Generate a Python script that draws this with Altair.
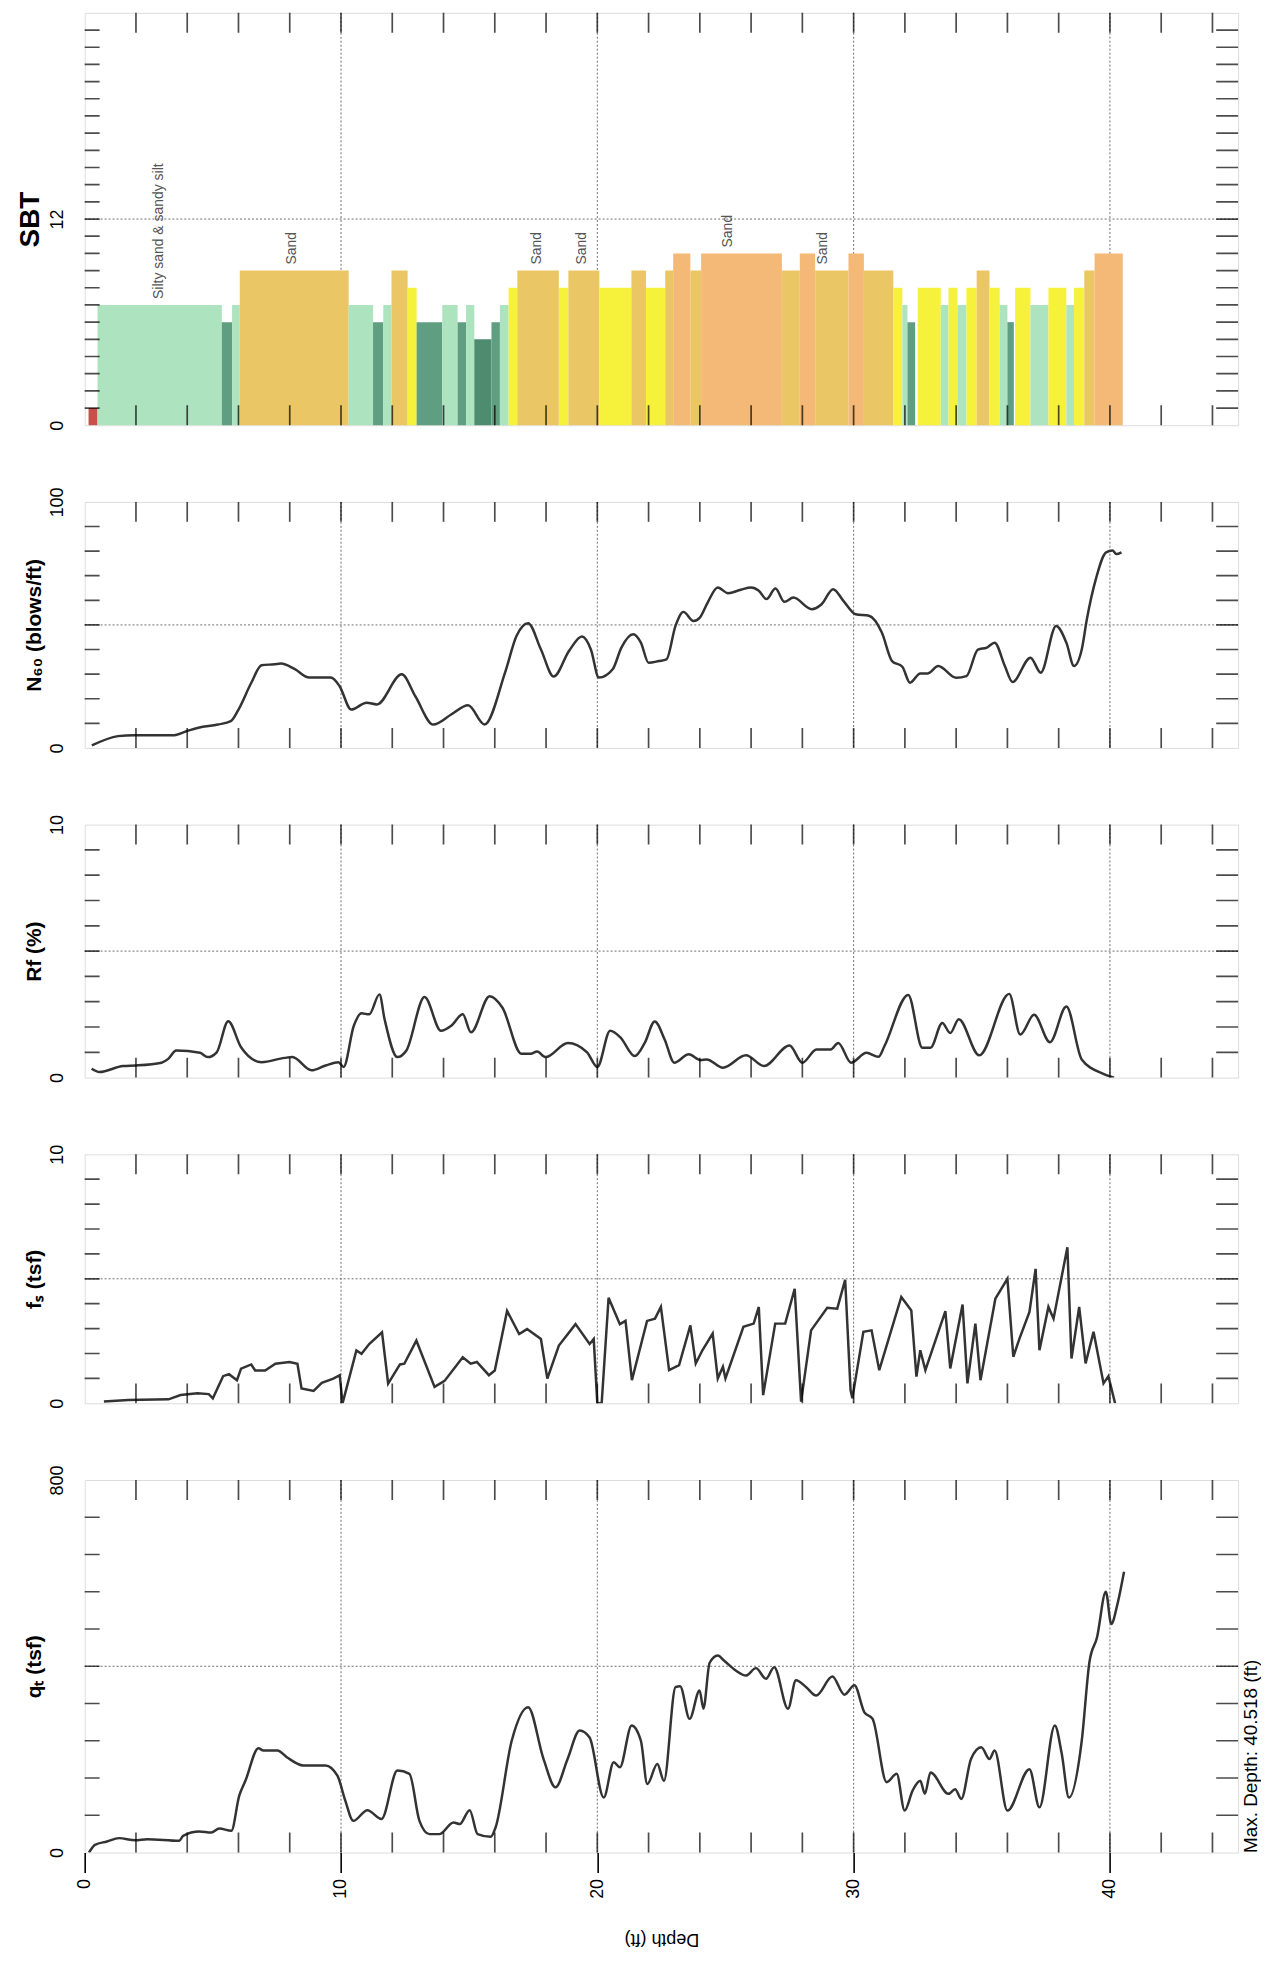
import altair as alt
import pandas as pd

FONT = "Liberation Sans"
DEPTH_MAX = 45
PLOT_W = 1158

# ---------------- data ----------------
depth_ticks = [2, 4, 6, 8, 10, 12, 14, 16, 18, 20, 22, 24, 26, 28, 30, 32, 34, 36, 38, 40, 42, 44]
grid_depths = [10, 20, 30, 40]
depth_labels = [0, 10, 20, 30, 40]

# SBT layers: (from depth, to depth, zone)
sbt_layers = [
    (0.15, 0.5, 1), (0.5, 5.35, 7), (5.35, 5.75, 6), (5.75, 6.05, 7), (6.05, 10.3, 9),
    (10.3, 11.25, 7), (11.25, 11.65, 6), (11.65, 11.97, 7), (11.97, 12.6, 9), (12.6, 12.95, 8),
    (12.95, 13.95, 6), (13.95, 14.55, 7), (14.55, 14.88, 6), (14.88, 15.2, 7), (15.2, 15.87, 5),
    (15.87, 16.2, 6), (16.2, 16.54, 7), (16.54, 16.88, 8), (16.88, 18.5, 9), (18.5, 18.87, 8),
    (18.87, 20.08, 9), (20.08, 21.33, 8), (21.33, 21.9, 9), (21.9, 22.65, 8), (22.65, 22.96, 9),
    (22.96, 23.63, 10), (23.63, 24.05, 9), (24.05, 27.2, 10), (27.2, 27.9, 9), (27.9, 28.5, 10),
    (28.5, 29.8, 9), (29.8, 30.4, 10), (30.4, 31.55, 9), (31.55, 31.9, 8), (31.9, 32.1, 7),
    (32.1, 32.4, 6), (32.5, 33.4, 8), (33.4, 33.7, 7), (33.7, 34.05, 8), (34.05, 34.4, 7),
    (34.4, 34.8, 8), (34.8, 35.3, 9), (35.3, 35.7, 8), (35.7, 36.0, 7), (36.0, 36.25, 6),
    (36.3, 36.9, 8), (36.9, 37.6, 7), (37.6, 38.3, 8), (38.3, 38.6, 7), (38.6, 39.0, 8),
    (39.0, 39.4, 9), (39.4, 40.5, 10),
]
sbt_zone_keys = ["1", "5", "6", "7", "8", "9", "10"]
sbt_zone_colors = ["#c8504a", "#4d8c6e", "#5f9e80", "#ade3bf", "#f6f23c", "#eac764", "#f4b877"]

sbt_labels = [
    (2.9, 7, "Silty sand & sandy silt"),
    (8.1, 9, "Sand"),
    (17.65, 9, "Sand"),
    (19.4, 9, "Sand"),
    (25.1, 10, "Sand"),
    (28.8, 9, "Sand"),
]

n60 = [(0.28, 1), (1.3, 4.8), (1.93, 5.2), (3.5, 5.2), (3.97, 6.8), (4.44, 8.2), (5.2, 9.5),
       (5.7, 10.9), (6.0, 15.6), (6.5, 26.5), (6.9, 33.6), (7.4, 34), (7.66, 34.3), (8.2, 32),
       (8.76, 28.6), (9.6, 28.6), (9.94, 25.2), (10.4, 15.6), (11.0, 18.4), (11.4, 17.7),
       (12.37, 29.9), (12.9, 21), (13.6, 9.5), (14.3, 13.6), (14.96, 17.3), (15.6, 9.5),
       (16.4, 30.6), (16.85, 45.6), (17.3, 50.7), (17.8, 40), (18.3, 29), (18.9, 39.5),
       (19.4, 45.3), (19.75, 40), (20.06, 28.6), (20.6, 32), (20.94, 40.8), (21.4, 46.2),
       (21.7, 42.8), (22.0, 34.6), (22.4, 35.3), (22.7, 36), (23.05, 49.6), (23.36, 55.3),
       (23.75, 51.6), (24.0, 53), (24.3, 59), (24.7, 65.2), (25.1, 62.9), (25.6, 64.3),
       (26.0, 65.2), (26.3, 63.9), (26.6, 60.5), (26.95, 64.8), (27.3, 59.4), (27.65, 61.1),
       (28.36, 56.4), (28.75, 58.4), (29.2, 64.5), (29.6, 59.8), (30.08, 54.3), (30.6, 53.7),
       (31.1, 46.9), (31.5, 35.3), (31.9, 33), (32.2, 26.5), (32.6, 30.3), (32.9, 30.3),
       (33.3, 33.3), (34.0, 28.5), (34.4, 29.2), (34.85, 40), (35.2, 40.8), (35.5, 42.8),
       (35.9, 33.3), (36.2, 26.8), (36.9, 36.7), (37.3, 30.6), (37.9, 49.6), (38.3, 42.8),
       (38.6, 33.3), (38.9, 40), (39.1, 52.3), (39.45, 68.6), (39.85, 79.5), (40.1, 80.2),
       (40.25, 78.8), (40.45, 79.5)]

rf = [(0.27, 0.35), (0.58, 0.22), (1.5, 0.46), (2.0, 0.48), (3.0, 0.59), (3.26, 0.74),
      (3.57, 1.07), (4.5, 0.98), (4.8, 0.81), (5.15, 1.0), (5.6, 2.23), (6.1, 1.2), (6.9, 0.61),
      (7.8, 0.78), (8.1, 0.81), (8.85, 0.29), (9.4, 0.48), (9.9, 0.61), (10.1, 0.42),
      (10.5, 2.05), (10.8, 2.54), (11.1, 2.5), (11.5, 3.29), (11.7, 2.31), (12.2, 0.81),
      (12.55, 1.07), (13.26, 3.19), (13.9, 1.85), (14.3, 2.05), (14.75, 2.5), (15.07, 1.79),
      (15.8, 3.22), (16.3, 2.76), (17.04, 0.94), (17.4, 0.94), (17.65, 1.03), (17.98, 0.81),
      (18.85, 1.37), (19.6, 1.0), (20.0, 0.42), (20.5, 1.85), (20.9, 1.59), (21.46, 0.85),
      (21.85, 1.37), (22.24, 2.22), (22.63, 1.5), (23.0, 0.59), (23.57, 0.92), (24.03, 0.69),
      (24.27, 0.72), (24.9, 0.39), (25.8, 0.88), (26.5, 0.46), (27.5, 1.27), (28.0, 0.59),
      (28.55, 1.11), (29.1, 1.11), (29.4, 1.37), (29.9, 0.59), (30.5, 0.98), (30.97, 0.82),
      (31.2, 1.24), (32.13, 3.27), (32.68, 1.18), (33.0, 1.18), (33.46, 2.16), (33.77, 1.76),
      (34.1, 2.31), (34.9, 0.88), (36.07, 3.31), (36.5, 1.7), (37.04, 2.48), (37.66, 1.4),
      (38.3, 2.81), (38.9, 0.72), (39.7, 0.17), (40.16, 0.0)]

fs = [(0.75, 0.07), (1.7, 0.13), (3.27, 0.16), (3.74, 0.33), (4.4, 0.4), (4.84, 0.37),
      (5.0, 0.2), (5.4, 1.09), (5.63, 1.17), (5.94, 0.93), (6.1, 1.39), (6.5, 1.56),
      (6.65, 1.32), (7.04, 1.32), (7.44, 1.59), (7.99, 1.66), (8.3, 1.59), (8.46, 0.6),
      (8.93, 0.5), (9.25, 0.82), (9.7, 0.99), (9.95, 1.13), (10.06, 0.0), (10.6, 2.12),
      (10.8, 1.99), (11.1, 2.38), (11.6, 2.85), (11.84, 0.79), (12.3, 1.56), (12.47, 1.59),
      (12.94, 2.52), (13.65, 0.66), (14.04, 0.9), (14.75, 1.85), (15.06, 1.59), (15.3, 1.66),
      (15.77, 1.13), (16.0, 1.32), (16.48, 3.71), (16.95, 2.78), (17.26, 2.98), (17.8, 2.58),
      (18.05, 0.99), (18.5, 2.32), (19.15, 3.18), (19.7, 2.38), (19.86, 2.58), (20.0, 0.0),
      (20.17, 0.0), (20.44, 4.24), (20.88, 3.18), (21.1, 3.31), (21.35, 0.93), (21.94, 3.31),
      (22.25, 3.4), (22.48, 3.87), (22.8, 1.33), (23.19, 1.53), (23.63, 3.13), (23.84, 1.6),
      (24.1, 2.13), (24.5, 2.8), (24.7, 1.0), (24.9, 1.47), (25.0, 1.0), (25.7, 3.07),
      (26.1, 3.2), (26.3, 3.87), (26.47, 0.33), (26.94, 3.2), (27.33, 3.2), (27.7, 4.6),
      (27.95, 0.07), (28.34, 2.93), (28.97, 3.84), (29.36, 3.8), (29.67, 4.96), (29.88, 0.53),
      (29.95, 0.2), (30.38, 2.87), (30.7, 2.93), (31.0, 1.33), (31.86, 4.27), (32.25, 3.73),
      (32.45, 1.07), (32.6, 2.13), (32.8, 1.33), (33.58, 3.7), (33.77, 1.4), (34.25, 3.97),
      (34.44, 0.8), (34.75, 3.2), (34.95, 0.93), (35.53, 4.2), (36.0, 5.0), (36.23, 1.87),
      (36.47, 2.6), (36.86, 3.67), (37.1, 5.4), (37.25, 2.13), (37.6, 3.87), (37.8, 3.4),
      (38.34, 6.27), (38.5, 1.8), (38.8, 3.87), (39.05, 1.6), (39.36, 2.87), (39.75, 0.8),
      (39.94, 1.09), (40.2, 0.0)]

qt = [(0.17, 0), (0.4, 16.5), (0.87, 23.7), (1.34, 30.9), (1.97, 26.5), (2.44, 28.7),
      (3.69, 25.1), (3.84, 35.9), (4.47, 45.2), (4.94, 43), (5.25, 51.7), (5.72, 46.6),
      (6.03, 122), (6.27, 154), (6.78, 224), (6.97, 219), (7.52, 219), (7.9, 204), (8.53, 187),
      (9.39, 187), (9.86, 165), (10.17, 111), (10.48, 68), (11.03, 91), (11.58, 72),
      (12.2, 176), (12.67, 169), (13.06, 68), (13.45, 39.5), (13.84, 39.5), (14.39, 64.6),
      (14.63, 61), (15.02, 91), (15.33, 39.5), (15.84, 33.7), (16.03, 53.8), (16.66, 240),
      (17.3, 312), (17.9, 201), (18.37, 140), (18.84, 201), (19.31, 262), (19.7, 247),
      (20.25, 118), (20.64, 194), (20.88, 183), (21.34, 273), (21.7, 240), (21.95, 147),
      (22.34, 190), (22.6, 154), (23.05, 355), (23.23, 357), (23.6, 287), (23.99, 348),
      (24.14, 309), (24.38, 407), (24.7, 423), (24.93, 413), (25.4, 391), (25.8, 380),
      (26.19, 396), (26.58, 373), (26.9, 398), (27.44, 309), (27.75, 370), (28.15, 355),
      (28.54, 337), (29.17, 378), (29.64, 339), (30.03, 359), (30.42, 301), (30.74, 287),
      (31.29, 151), (31.68, 169), (31.99, 90), (32.3, 133), (32.6, 154), (32.78, 126),
      (33.0, 172), (33.7, 126), (33.96, 136), (34.2, 115), (34.58, 201), (34.98, 226),
      (35.3, 201), (35.5, 219), (36.0, 90), (36.86, 179), (37.25, 97), (37.85, 273),
      (38.12, 212), (38.4, 118), (38.9, 240), (39.2, 409), (39.5, 463), (39.84, 560),
      (40.05, 491), (40.3, 535), (40.55, 603)]

max_depth_text = "Max. Depth: 40.518 (ft)"

# panel definitions: title, y max, minor step, label values, height
panels_cfg = [
    dict(key="sbt", title="SBT", tsize=28, ymax=24, step=1, labels=[0, 12], mid=12, h=414),
    dict(key="n60", title="N₆₀ (blows/ft)", tsize=21, ymax=100, step=10, labels=[0, 100], mid=50, h=247),
    dict(key="rf", title="Rf (%)", tsize=21, ymax=10, step=1, labels=[0, 10], mid=5, h=254),
    dict(key="fs", title="fₛ (tsf)", tsize=21, ymax=10, step=1, labels=[0, 10], mid=5, h=250),
    dict(key="qt", title="qₜ (tsf)", tsize=21, ymax=800, step=80, labels=[0, 800], mid=400, h=374),
]

series = {"n60": n60, "rf": rf, "fs": fs, "qt": qt}
smooth = {"n60": "monotone", "rf": "monotone", "fs": "linear", "qt": "monotone"}

xs = alt.Scale(domain=[0, DEPTH_MAX], nice=False, zero=False)


def build_panel(cfg, bottom):
    ymax = cfg["ymax"]
    ys = alt.Scale(domain=[0, ymax], nice=False, zero=True)
    y_axis = alt.Axis(
        values=cfg["labels"], labelAngle=270, labelAlign="center", labelBaseline="bottom",
        labelPadding=18, labelFontSize=18, labelColor="black", labelFont=FONT,
        ticks=False, tickSize=0, domain=False, grid=False, labelOverlap=False,
        title=cfg["title"], titleFontSize=cfg["tsize"], titleFontWeight="bold",
        titleFont=FONT, titleColor="black", titleAngle=270, titleBaseline="bottom",
        titlePadding=0, minExtent=40, maxExtent=40,
    )
    if bottom:
        x_axis = alt.Axis(
            values=depth_labels, labelAngle=270, labelPadding=6, labelFontSize=18,
            labelFont=FONT, labelColor="black", labelFlush=False, labelOverlap=False,
            ticks=True, tickSize=20, tickWidth=1.6, tickColor="black", domain=False, grid=False,
            title="Depth (ft)", titleAngle=180, titleBaseline="bottom", titlePadding=29,
            titleFontSize=18, titleFontWeight="normal", titleFont=FONT, titleColor="black",
            minExtent=48, maxExtent=48,
        )
    else:
        x_axis = None

    grid_v = alt.Chart(pd.DataFrame({"d": grid_depths})).mark_rule(
        color="#6f6f6f", strokeDash=[2, 2], strokeWidth=1
    ).encode(x=alt.X("d:Q", scale=xs, axis=None))
    grid_h = alt.Chart(pd.DataFrame({"v": [cfg["mid"]]})).mark_rule(
        color="#6f6f6f", strokeDash=[2, 2], strokeWidth=1
    ).encode(y=alt.Y("v:Q", scale=ys, axis=None))

    layers = [grid_v, grid_h]
    if cfg["key"] == "sbt":
        sdf = pd.DataFrame({
            "start": [a for a, b, z in sbt_layers],
            "end": [b for a, b, z in sbt_layers],
            "zone": [z for a, b, z in sbt_layers],
            "base": [0 for _ in sbt_layers],
            "zk": [str(z) for a, b, z in sbt_layers],
        })
        bars = alt.Chart(sdf).mark_rect().encode(
            x=alt.X("start:Q", scale=xs, axis=x_axis),
            x2="end:Q",
            y=alt.Y("zone:Q", scale=ys, axis=y_axis),
            y2="base:Q",
            color=alt.Color("zk:N", scale=alt.Scale(domain=sbt_zone_keys, range=sbt_zone_colors), legend=None),
        )
        ldf = pd.DataFrame({
            "d": [d for d, z, t in sbt_labels],
            "zone": [z for d, z, t in sbt_labels],
            "t": [t for d, z, t in sbt_labels],
        })
        texts = alt.Chart(ldf).mark_text(
            angle=270, align="left", baseline="middle", dx=6, fontSize=14, font=FONT, color="#555555"
        ).encode(
            x=alt.X("d:Q", scale=xs, axis=None),
            y=alt.Y("zone:Q", scale=ys, axis=None),
            text="t:N",
        )
        layers += [bars, texts]
    else:
        pts = series[cfg["key"]]
        df = pd.DataFrame({"d": [p[0] for p in pts], "v": [p[1] for p in pts]})
        line = alt.Chart(df).mark_line(
            color="#333333", strokeWidth=2.5, interpolate=smooth[cfg["key"]], clip=True
        ).encode(
            x=alt.X("d:Q", scale=xs, axis=x_axis),
            y=alt.Y("v:Q", scale=ys, axis=y_axis),
            order="d:Q",
        )
        layers.append(line)

    vticks = [cfg["step"] * k for k in range(1, int(round(ymax / cfg["step"])))]
    top_t = alt.Chart(pd.DataFrame({"d": depth_ticks, "y": [ymax] * len(depth_ticks)})).mark_tick(
        orient="vertical", size=40, thickness=1.7, color="black", clip=True
    ).encode(x=alt.X("d:Q", scale=xs, axis=None), y=alt.Y("y:Q", scale=ys, axis=None))
    bot_t = alt.Chart(pd.DataFrame({"d": depth_ticks, "y": [0] * len(depth_ticks)})).mark_tick(
        orient="vertical", size=40, thickness=1.7, color="black", clip=True
    ).encode(x=alt.X("d:Q", scale=xs, axis=None), y=alt.Y("y:Q", scale=ys, axis=None))
    left_t = alt.Chart(pd.DataFrame({"v": vticks, "x": [0] * len(vticks)})).mark_tick(
        orient="horizontal", size=30, thickness=1.7, color="black", clip=True
    ).encode(x=alt.X("x:Q", scale=xs, axis=None), y=alt.Y("v:Q", scale=ys, axis=None))

    if bottom:
        r_axis = alt.Axis(
            orient="right", labels=False, ticks=False, domain=False, grid=False,
            title=max_depth_text, titleAngle=270, titleAnchor="start", titleAlign="left",
            titleBaseline="top", titlePadding=3, titleFontSize=19, titleFontWeight="normal",
            titleFont=FONT, titleColor="black", minExtent=0, maxExtent=0,
        )
    else:
        r_axis = None
    right_t = alt.Chart(pd.DataFrame({"v": vticks, "x": [DEPTH_MAX] * len(vticks)})).mark_tick(
        orient="horizontal", size=44, thickness=1.7, color="black", clip=True
    ).encode(x=alt.X("x:Q", scale=xs, axis=None), y=alt.Y("v:Q", scale=ys, axis=r_axis))

    layers += [top_t, bot_t, left_t, right_t]
    return alt.layer(*layers).resolve_axis(x="independent", y="independent").properties(
        width=PLOT_W, height=cfg["h"]
    )


panels = [build_panel(c, c["key"] == "qt") for c in panels_cfg]

chart = alt.vconcat(*panels, spacing=77, bounds="flush").properties(
    padding={"left": 8, "top": 0, "right": 0, "bottom": 0}
).configure_view(
    stroke="black", strokeWidth=1.6
).configure(background="white")

chart.save("out.html", embed_options={"renderer": "svg", "actions": False})
